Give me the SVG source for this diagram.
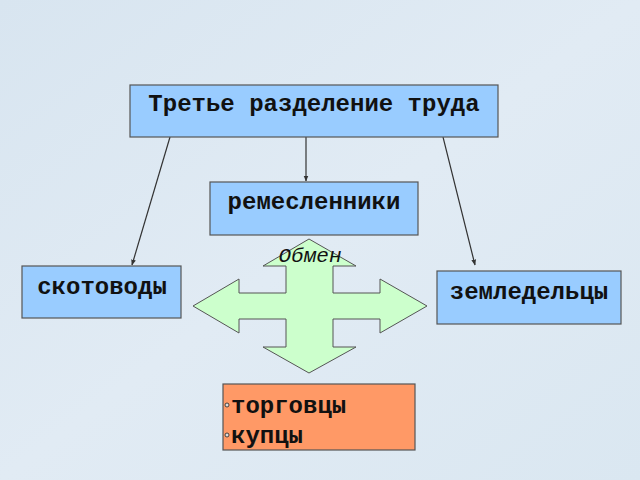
<svg xmlns="http://www.w3.org/2000/svg" width="640" height="480" viewBox="0 0 640 480">
<defs>
<linearGradient id="bg" x1="0" y1="0" x2="1" y2="1">
<stop offset="0" stop-color="#d8e5f0"/>
<stop offset="0.5" stop-color="#e1ebf4"/>
<stop offset="1" stop-color="#dae7f1"/>
</linearGradient>
<marker id="ah" viewBox="0 0 10 10" refX="9" refY="5" markerWidth="5" markerHeight="5" orient="auto">
<path d="M0,1 L10,5 L0,9 z" fill="#333"/>
</marker>
<style>
.box{fill:#99ccff;stroke:#555;stroke-width:1.2}
.t{font-family:"Liberation Mono","Courier New",monospace;font-weight:bold;font-size:24px;fill:#111;text-anchor:middle}
.conn{stroke:#333;stroke-width:1.2;fill:none;marker-end:url(#ah)}
</style>
</defs>
<rect width="640" height="480" fill="url(#bg)"/>
<g id="connectors">
<line class="conn" x1="170" y1="137" x2="132" y2="265"/>
<line class="conn" x1="306" y1="137" x2="306" y2="181"/>
<line class="conn" x1="443" y1="137" x2="475" y2="265"/>
</g>
<g id="top">
<rect class="box" x="130" y="85" width="368" height="52"/>
<text class="t" x="314" y="111">Третье разделение труда</text>
</g>
<g id="crafts">
<rect class="box" x="210" y="182" width="208" height="53"/>
<text class="t" x="314" y="209">ремесленники</text>
</g>
<g id="herders">
<rect class="box" x="22" y="266" width="159" height="52"/>
<text class="t" x="102" y="294">скотоводы</text>
</g>
<g id="farmers">
<rect class="box" x="437" y="271" width="184" height="53"/>
<text class="t" x="529" y="299">земледельцы</text>
</g>
<g id="exchange">
<polygon points="309,239 356,266 333,266 333,293 380,293 380,279 427,306 380,333 380,319 333,319 333,347 356,347 309,373 263,347 286,347 286,319 239,319 239,333 193,306 239,279 239,293 286,293 286,266 263,266" fill="#ccffcc" stroke="#555" stroke-width="1"/>
<text x="310" y="262" font-family="'Liberation Mono','Courier New',monospace" font-style="italic" font-size="21" fill="#111" text-anchor="middle">Обмен</text>
</g>
<g id="traders">
<rect x="223" y="384" width="192" height="66" fill="#ff9966" stroke="#555" stroke-width="1.2"/>
<circle cx="227" cy="405" r="2" fill="#ddd" stroke="#222" stroke-width="0.8"/>
<circle cx="227" cy="435" r="2" fill="#ddd" stroke="#222" stroke-width="0.8"/>
<text x="231" y="413" font-family="'Liberation Mono','Courier New',monospace" font-weight="bold" font-size="24" fill="#111">торговцы</text>
<text x="231" y="443" font-family="'Liberation Mono','Courier New',monospace" font-weight="bold" font-size="24" fill="#111">купцы</text>
</g>
</svg>
